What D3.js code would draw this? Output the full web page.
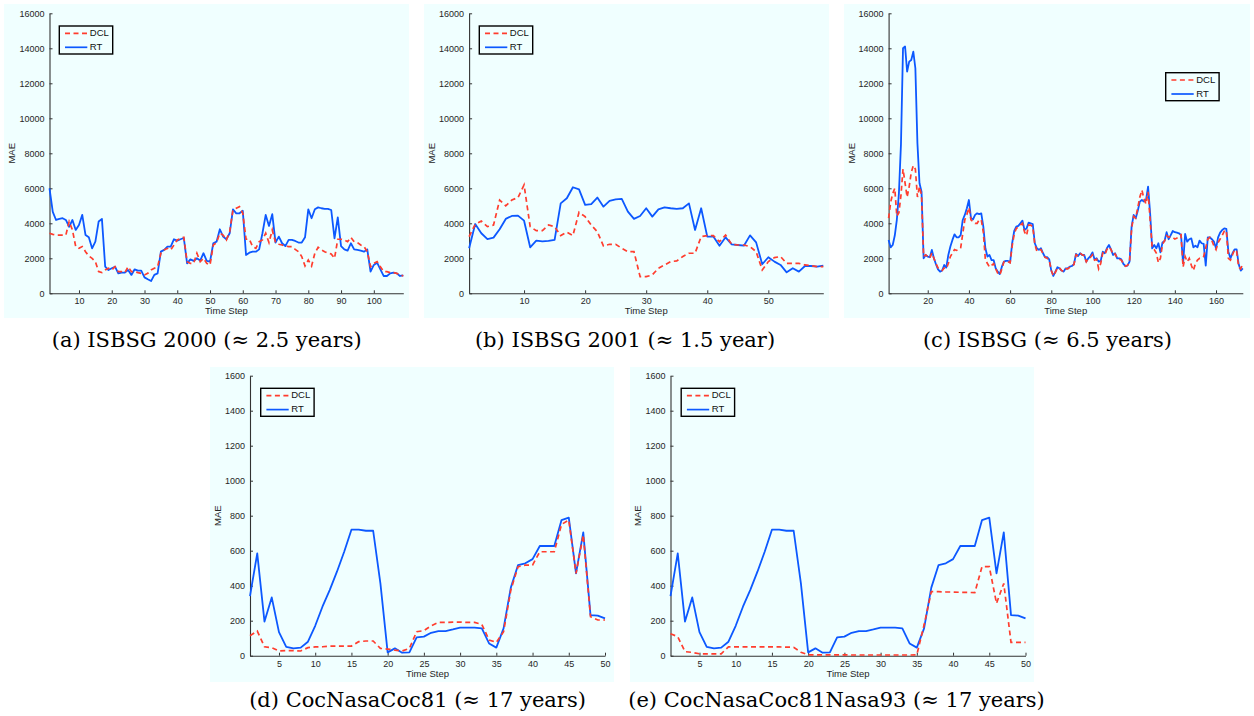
<!DOCTYPE html>
<html lang="en">
<head>
<meta charset="UTF-8">
<title>DCL vs RT - MAE per time step</title>
<script src="https://cdn.jsdelivr.net/npm/d3@7"></script>
<style>
  body { margin: 0; background: #fff; }
  .tick text { font-family: "Liberation Sans", Arial, sans-serif; font-size: 9px; fill: #262626; }
  .axis-label { font-family: "Liberation Sans", Arial, sans-serif; font-size: 9.5px; fill: #262626; }
  .legend text { font-family: "Liberation Sans", Arial, sans-serif; font-size: 9.5px; fill: #111; }
  .caption { font-family: "DejaVu Serif", serif; font-size: 21px; fill: #000; }
</style>
</head>
<body>
<svg id="chart" width="1254" height="716"></svg>
<script>
// ---- data ----
var seriesNames = ["DCL", "RT"];
var captions = [
  "(a) ISBSG 2000 (\u2248 2.5 years)",
  "(b) ISBSG 2001 (\u2248 1.5 year)",
  "(c) ISBSG (\u2248 6.5 years)",
  "(d) CocNasaCoc81 (\u2248 17 years)",
  "(e) CocNasaCoc81Nasa93 (\u2248 17 years)"
];
var bigYTicks = [0, 2000, 4000, 6000, 8000, 10000, 12000, 14000, 16000];
var smallYTicks = [0, 200, 400, 600, 800, 1000, 1200, 1400, 1600];
var ticksA = [10, 20, 30, 40, 50, 60, 70, 80, 90, 100];
var ticksB = [10, 20, 30, 40, 50];
var ticksC = [20, 40, 60, 80, 100, 120, 140, 160];
var ticksDE = [5, 10, 15, 20, 25, 30, 35, 40, 45, 50];

var rtA = [6000, 4650, 4190, 4250, 4290, 4190, 3800, 4190, 3620, 3900,
  4480, 3330, 3200, 2570, 2950, 4100, 4250, 1520, 1330, 1430,
  1520, 1140, 1180, 1180, 1330, 1050, 1370, 1300, 1300, 910,
  800, 700, 1050, 1140, 2380, 2480, 2670, 2670, 3090, 3010,
  3090, 3160, 1710, 1940, 1850, 2000, 1870, 2290, 1850, 1810,
  2860, 2950, 3660, 3240, 3090, 3430, 4800, 4570, 4570, 4720,
  2190, 2320, 2380, 2380, 2510, 3430, 4480, 3850, 4520, 2900,
  3240, 2860, 2700, 3050, 3050, 2990, 2900, 2900, 3200, 4800,
  4290, 4800, 4910, 4860, 4820, 4820, 4760, 3140, 4340, 2700,
  2510, 2440, 2860, 2510, 2480, 2440, 2380, 2510, 1240, 1620,
  1750, 1370, 990, 990, 1140, 1180, 1140, 990, 1030];
var dclA = [3430, 3370, 3330, 3330, 3330, 3330, 4100, 3620, 2670, 2570,
  2670, 2380, 2130, 2000, 1810, 1240, 1180, 1330, 1430, 1330,
  1520, 1240, 1240, 1180, 1520, 1240, 1240, 1180, 1140, 1050,
  1140, 1330, 1430, 1520, 2290, 2480, 2570, 2480, 2760, 3050,
  3140, 3200, 1810, 1710, 1710, 2290, 1810, 2000, 1710, 1620,
  2760, 2900, 3430, 3330, 3050, 3520, 4760, 4860, 4950, 4570,
  3090, 3090, 2670, 2570, 2950, 3050, 3430, 2900, 3620, 2900,
  2800, 2760, 2700, 2670, 2670, 2510, 2380, 2100, 1560, 1900,
  1560, 2290, 2630, 2480, 2380, 2290, 2250, 2000, 3090, 3090,
  3050, 2950, 3200, 2950, 2900, 2760, 2670, 2380, 1520, 1710,
  1810, 1520, 1240, 1240, 1180, 1180, 1140, 1050, 990];

var rtB = [2570, 3960, 3430, 3100, 3180, 3660, 4250, 4420, 4440, 4150,
  2630, 3010, 2970, 2990, 3050, 5140, 5430, 6060, 5940, 5050,
  5100, 5470, 4950, 5280, 5370, 5390, 4670, 4250, 4420, 4860,
  4380, 4800, 4910, 4860, 4820, 4860, 5140, 3620, 4860, 3240,
  3240, 2720, 3200, 2800, 2760, 2720, 3310, 2910, 1660, 2060,
  1810, 1620, 1200, 1430, 1240, 1560, 1560, 1520, 1580];
var dclB = [3240, 3940, 4130, 3810, 3900, 5330, 5000, 5330, 5470, 6190,
  3810, 3580, 3580, 3900, 3810, 3300, 3490, 3300, 4630, 4380,
  3900, 3520, 2700, 2800, 2800, 2570, 2380, 2380, 950, 950,
  1050, 1430, 1620, 1810, 1850, 2100, 2290, 2290, 3240, 3300,
  3300, 2950, 3330, 2800, 2760, 2760, 2670, 2380, 1330, 1810,
  2040, 2100, 1710, 1710, 1710, 1620, 1580, 1520, 1520];

var rtC = [3050, 2630, 2760, 3300, 4200, 5700, 8500, 14000, 14100, 12670,
  13240, 13330, 13810, 12860, 8570, 6290, 5810, 2000, 2190, 2100,
  2060, 2480, 2000, 1660, 1370, 1240, 1300, 1620, 1470, 2190,
  2670, 3050, 3370, 3200, 3200, 3330, 4190, 4480, 4860, 5330,
  4290, 4230, 4480, 4570, 4530, 4570, 3810, 2570, 2100, 2190,
  1900, 1900, 1430, 1240, 1100, 1520, 1810, 1850, 1850, 1750,
  2860, 3560, 3810, 3850, 4000, 4150, 3620, 3710, 4040, 4000,
  3960, 2860, 2570, 2480, 2570, 2290, 2060, 2060, 1940, 1300,
  990, 1240, 1490, 1430, 1300, 1240, 1430, 1430, 1520, 1560,
  1660, 2250, 2130, 2290, 2190, 2190, 1810, 2000, 2130, 2340,
  1940, 2000, 1810, 1850, 2380, 2290, 2570, 2760, 2510, 2190,
  2290, 2000, 2000, 1940, 1680, 1560, 1580, 1810, 3810, 4480,
  4290, 4720, 5240, 5330, 5240, 5330, 6100, 4570, 2570, 2760,
  2570, 2860, 2340, 2900, 2990, 3490, 3090, 3330, 3560, 3490,
  3470, 3430, 3330, 1710, 3390, 2950, 3090, 3140, 2630, 2720,
  2630, 3010, 2860, 2820, 1580, 3200, 3200, 3090, 2950, 2570,
  3200, 3470, 3620, 3710, 3680, 2380, 2000, 2290, 2510, 2510,
  1660, 1300, 1430];
var dclC = [4290, 5200, 5700, 6000, 4400, 4600, 5600, 7100, 6300, 5500,
  6100, 6900, 7300, 7100, 5500, 6100, 5600, 2100, 2200, 2100,
  2000, 2300, 2000, 1700, 1450, 1350, 1300, 1450, 1400, 1700,
  2100, 2300, 2500, 2450, 2500, 2600, 3400, 4200, 4500, 4900,
  4200, 4100, 4000, 4000, 4200, 4200, 3500, 1900, 1700, 1500,
  1600, 1700, 1400, 1150, 1050, 1400, 1800, 1850, 1800, 1750,
  2700, 3400, 3700, 3800, 3900, 4000, 3500, 3300, 3900, 3900,
  3800, 2800, 2400, 2450, 2500, 2250, 2050, 2000, 1900, 1300,
  1000, 1200, 1450, 1450, 1300, 1250, 1400, 1400, 1500, 1550,
  1650, 2200, 2150, 2300, 2200, 2150, 1800, 2000, 2050, 2200,
  1900, 1950, 1400, 1700, 2300, 2200, 2500, 2650, 2500, 2200,
  2250, 2000, 1950, 1900, 1700, 1550, 1600, 1800, 3700, 4400,
  4300, 4900, 5500, 5900, 5400, 5100, 5800, 4200, 2600, 2500,
  2300, 1750, 2000, 2800, 3000, 3300, 3200, 3250, 3200, 3100,
  3150, 3300, 3350, 1500, 2100, 1800, 2000, 1600, 1300, 1700,
  1900, 2000, 2000, 2100, 2600, 3100, 3200, 3000, 2700, 2500,
  2900, 3100, 3300, 3550, 3600, 2000, 1900, 2200, 2500, 2400,
  1500, 1400, 1700];

var rtD = [340, 585, 195, 333, 135, 51, 42, 46, 80, 171,
  280, 375, 480, 594, 720, 720, 714, 714, 413, 19,
  42, 17, 19, 105, 109, 131, 141, 141, 150, 160,
  160, 160, 156, 70, 46, 156, 389, 518, 528, 552,
  627, 627, 627, 775, 789, 470, 705, 232, 229, 213];
var dclD = [114, 141, 51, 46, 27, 29, 29, 27, 46, 50,
  51, 55, 55, 55, 55, 80, 84, 84, 42, 38,
  32, 27, 42, 137, 143, 171, 190, 190, 192, 192,
  190, 190, 179, 90, 76, 137, 375, 509, 518, 518,
  594, 594, 594, 750, 775, 470, 690, 223, 204, 204];
// RT curve in (e) is the same as in (d)
var rtE = rtD.slice();
var dclE = [125, 109, 23, 19, 11, 11, 11, 11, 51, 51,
  51, 51, 50, 50, 50, 50, 49, 48, 20, 5,
  5, 5, 5, 5, 5, 4, 4, 4, 4, 4,
  4, 4, 4, 4, 5, 175, 366, 366, 364, 364,
  362, 362, 360, 509, 509, 299, 413, 76, 76, 76];

// ---- layout ----
var blue = "#0c58ff", red = "#ff3d2e", bgColor = "#f0ffff";

var panels = [
  {rt: rtA, dcl: dclA, yMax: 16000, yTicks: bigYTicks, xTicks: ticksA, cap: 0,
   bg: [4, 4, 405, 314], plot: [49.5, 13.3, 403.3, 293.3], legend: [59.3, 26], capX: 206.7, capY: 347.3},
  {rt: rtB, dcl: dclB, yMax: 16000, yTicks: bigYTicks, xTicks: ticksB, cap: 1,
   bg: [424, 4, 405, 314], plot: [469.1, 13.3, 823.3, 293.3], legend: [479.3, 26], capX: 625, capY: 347.3},
  {rt: rtC, dcl: dclC, yMax: 16000, yTicks: bigYTicks, xTicks: ticksC, cap: 2,
   bg: [844, 4, 406, 314], plot: [888.6, 13.3, 1242.8, 293.3], legend: [1165.7, 72.7], capX: 1047.5, capY: 347.3},
  {rt: rtD, dcl: dclD, yMax: 1600, yTicks: smallYTicks, xTicks: ticksDE, cap: 3,
   bg: [210, 367, 404, 315], plot: [250, 375.7, 605, 655.7], legend: [260.7, 388.3], capX: 417.5, capY: 707.3},
  {rt: rtE, dcl: dclE, yMax: 1600, yTicks: smallYTicks, xTicks: ticksDE, cap: 4,
   bg: [630, 367, 404, 315], plot: [670.5, 375.7, 1025.5, 655.7], legend: [681.2, 388.3], capX: 836.5, capY: 707.3}
];

var svg = d3.select("#chart");

panels.forEach(function(p) {
  var g = svg.append("g");
  var n = p.rt.length;

  g.append("rect")
    .attr("x", p.bg[0]).attr("y", p.bg[1])
    .attr("width", p.bg[2]).attr("height", p.bg[3])
    .attr("fill", bgColor);

  var x = d3.scaleLinear().domain([1, n]).range([p.plot[0], p.plot[2]]);
  var y = d3.scaleLinear().domain([0, p.yMax]).range([p.plot[3], p.plot[1]]);

  // axes (matlab style: inward ticks, no box)
  var yAxis = g.append("g")
    .attr("transform", "translate(" + p.plot[0] + ",0)")
    .call(d3.axisLeft(y).tickValues(p.yTicks).tickFormat(d3.format("d"))
      .tickSizeInner(-3).tickSizeOuter(0).tickPadding(5));
  var xAxis = g.append("g")
    .attr("transform", "translate(0," + p.plot[3] + ")")
    .call(d3.axisBottom(x).tickValues(p.xTicks).tickFormat(d3.format("d"))
      .tickSizeInner(-3).tickSizeOuter(0).tickPadding(4.5));
  [xAxis, yAxis].forEach(function(a) {
    a.select(".domain").attr("stroke", "#333").attr("stroke-width", 1.1);
    a.selectAll(".tick line").attr("stroke", "#333");
  });

  g.append("text").attr("class", "axis-label")
    .attr("x", (p.plot[0] + p.plot[2]) / 2).attr("y", p.plot[3] + 18.5)
    .attr("text-anchor", "middle").attr("dominant-baseline", "middle")
    .text("Time Step");
  g.append("text").attr("class", "axis-label")
    .attr("transform", "translate(" + (p.bg[0] + 8) + "," + ((p.plot[1] + p.plot[3]) / 2) + ") rotate(-90)")
    .attr("text-anchor", "middle").attr("dominant-baseline", "middle")
    .text("MAE");

  var line = d3.line()
    .x(function(d, i) { return x(i + 1); })
    .y(function(d) { return y(d); });

  g.append("path").datum(p.rt)
    .attr("fill", "none").attr("stroke", blue).attr("stroke-width", 1.8)
    .attr("stroke-linejoin", "round")
    .attr("d", line);
  g.append("path").datum(p.dcl)
    .attr("fill", "none").attr("stroke", red).attr("stroke-width", 1.7)
    .attr("stroke-dasharray", "5,3.5")
    .attr("d", line);

  // legend
  var lg = g.append("g").attr("class", "legend")
    .attr("transform", "translate(" + p.legend[0] + "," + p.legend[1] + ")");
  lg.append("rect").attr("width", 53.4).attr("height", 28)
    .attr("fill", bgColor).attr("stroke", "#000").attr("stroke-width", 1.4);
  var styles = [{c: red, dash: "5,3.5"}, {c: blue, dash: null}];
  seriesNames.forEach(function(name, i) {
    var yy = 7.3 + i * 14;
    lg.append("line").attr("x1", 5.7).attr("x2", 28).attr("y1", yy).attr("y2", yy)
      .attr("stroke", styles[i].c).attr("stroke-width", 1.7)
      .attr("stroke-dasharray", styles[i].dash);
    lg.append("text").attr("x", 30.5).attr("y", yy)
      .attr("dominant-baseline", "middle").text(name);
  });

  svg.append("text").attr("class", "caption")
    .attr("x", p.capX).attr("y", p.capY)
    .attr("text-anchor", "middle")
    .text(captions[p.cap]);
});
</script>
</body>
</html>
